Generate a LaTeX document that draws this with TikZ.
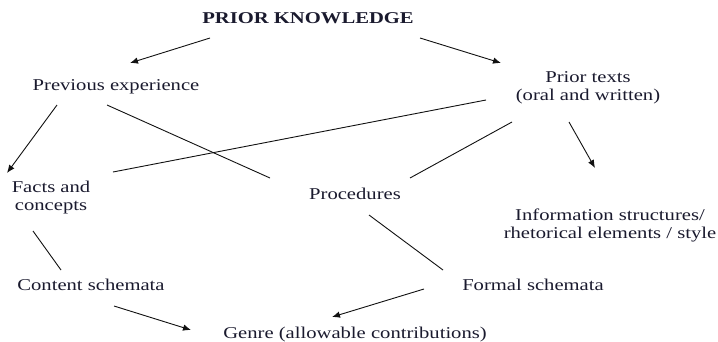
\documentclass[tikz,border=0pt]{standalone}
\usepackage{fontspec}
\setmainfont{Liberation Serif}[FakeStretch=1.25]
\usetikzlibrary{arrows.meta}
\definecolor{txt}{HTML}{1A1A2E}
\definecolor{ln}{HTML}{111111}
\tikzset{
  lbl/.style={anchor=base, inner sep=0pt, text=txt, align=center,
    font=\fontsize{16.5}{17.5}\selectfont},
  conn/.style={draw=ln, line width=0.9pt},
  arr/.style={conn, -{Latex[length=8pt,width=6.5pt]}}
}
\begin{document}
\begin{tikzpicture}[x=1pt,y=-1pt]
\useasboundingbox (0,0) rectangle (718,341);
\node[lbl, font=\fontsize{16.5}{17.5}\selectfont\bfseries] (title) at (308,23) {PRIOR KNOWLEDGE};
\node[lbl] (prev) at (116,90) {Previous experience};
\node[lbl] (prior) at (588,100) {Prior texts\\(oral and written)};
\node[lbl] (facts) at (51,210) {Facts and\\concepts};
\node[lbl] (proc) at (355,199) {Procedures};
\node[lbl] (info) at (610,238) {Information structures/\\rhetorical elements / style};
\node[lbl] (content) at (91,290) {Content schemata};
\node[lbl] (formal) at (533,290) {Formal schemata};
\node[lbl] (genre) at (355,338) {Genre (allowable contributions)};

\draw[arr] ([shift={(-98,15)}]title.base) -- ([shift={(14,-27)}]prev.base);
\draw[arr] ([shift={(112,15)}]title.base) -- ([shift={(-87,-37)}]prior.base);
\draw[arr] ([shift={(-59,15)}]prev.base) -- ([shift={(-44,-37)}]facts.base);
\draw[conn] ([shift={(-9,15)}]prev.base) -- ([shift={(-85,-21)}]proc.base);
\draw[conn] ([shift={(62,-38)}]facts.base) -- ([shift={(-102,0)}]prior.base);
\draw[conn] ([shift={(-76,22)}]prior.base) -- ([shift={(55,-21)}]proc.base);
\draw[arr] ([shift={(-19,22)}]prior.base) -- ([shift={(-15,-70)}]info.base);
\draw[conn] ([shift={(-18,21)}]facts.base) -- ([shift={(-30,-20)}]content.base);
\draw[conn] ([shift={(14,16)}]proc.base) -- ([shift={(-90,-20)}]formal.base);
\draw[arr] ([shift={(23,16)}]content.base) -- ([shift={(-164,-8)}]genre.base);
\draw[arr] ([shift={(-109,-1)}]formal.base) -- ([shift={(-23,-21)}]genre.base);
\end{tikzpicture}
\end{document}
